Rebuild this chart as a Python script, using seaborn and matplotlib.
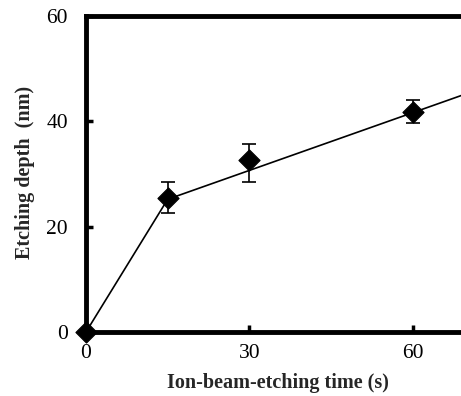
import matplotlib
matplotlib.use("Agg")
import matplotlib.pyplot as plt
import seaborn as sns
import pandas as pd

time_s = [0, 15, 30, 60, 90]
depth_nm = [0.0, 25.4, 32.6, 41.7, 52.6]
err_low = [0.0, 2.8, 4.1, 2.0, 0.0]
err_high = [0.0, 3.1, 3.1, 2.3, 0.0]
fit_x = [0, 15, 90]
fit_y = [0.0, 25.2, 52.6]
x_ticks = [0, 30, 60]
y_ticks = [0, 20, 40, 60]

sns.set_style("ticks")
plt.rcParams['font.family'] = ['Liberation Serif', 'DejaVu Serif']

fig = plt.figure(figsize=(4.61, 3.96), dpi=100)
ax = fig.add_axes([86/461, 1-332/396, 490/461, (332-16)/396])

df_fit = pd.DataFrame({"t": fit_x, "d": fit_y})
sns.lineplot(data=df_fit, x="t", y="d", ax=ax, color="black", lw=1.2)

df = pd.DataFrame({"t": time_s, "d": depth_nm})
ax.errorbar(time_s[1:4], depth_nm[1:4], yerr=[err_low[1:4], err_high[1:4]],
            fmt="none", ecolor="black", elinewidth=1.2, capsize=5, capthick=1.2, zorder=3)
sns.scatterplot(data=df, x="t", y="d", ax=ax, marker="D", s=115, color="black",
                edgecolor="black", zorder=4, clip_on=False)

ax.set_xlim(0, 90)
ax.set_ylim(0, 60)
ax.set_xticks(x_ticks)
ax.set_yticks(y_ticks)
for s in ax.spines.values():
    s.set_linewidth(3.5)
    s.set_color("black")
ax.tick_params(direction="in", length=5, width=2.5, colors="black", labelsize=15.5)
ax.tick_params(axis="y", pad=13)
ax.tick_params(axis="x", pad=9)
ax.set_xlabel("Ion-beam-etching time (s)", fontsize=14.5, fontweight="bold")
ax.xaxis.set_label_coords(278/461, 1-383/396, transform=fig.transFigure)
ax.xaxis.label.set_va("center")
ax.set_ylabel("Etching depth  (nm)", fontsize=14.5, fontweight="bold")
ax.yaxis.set_label_coords(25/461, 1-172/396, transform=fig.transFigure)
ax.yaxis.label.set_va("center")

fig.savefig("out.png", dpi=100)
